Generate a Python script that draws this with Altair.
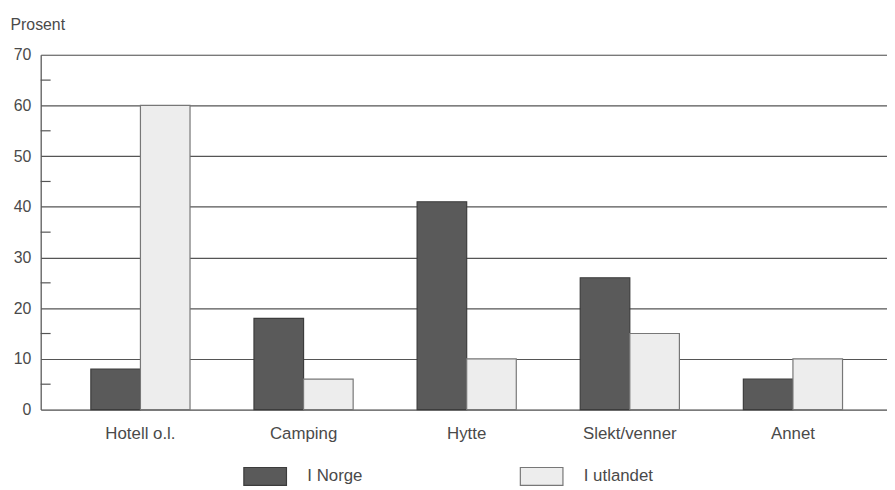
import altair as alt
import pandas as pd

categories = ["Hotell o.l.", "Camping", "Hytte", "Slekt/venner", "Annet"]
norge = [8, 18, 41, 26, 6]
utlandet = [60, 6, 10, 15, 10]
series = ["I Norge", "I utlandet"]
y_ticks = [0, 10, 20, 30, 40, 50, 60, 70]
minor_ticks = [5, 15, 25, 35, 45, 55, 65]

rows = []
for c, a, b in zip(categories, norge, utlandet):
    rows.append({"kat": c, "serie": series[0], "verdi": a})
    rows.append({"kat": c, "serie": series[1], "verdi": b})
df = pd.DataFrame(rows)
minor_df = pd.DataFrame({"v": minor_ticks})

FONT = "Liberation Sans"
TXT = "#4a4a4a"

yscale = alt.Scale(domain=[0, 70], nice=False)

bars = alt.Chart(df).mark_bar(strokeWidth=1.2).encode(
    x=alt.X("kat:N", sort=categories,
            scale=alt.Scale(paddingInner=0.392, paddingOuter=0.29, align=0.53),
            axis=alt.Axis(title=None, domain=False, ticks=False, labelAngle=0,
                          labelFont=FONT, labelFontSize=17, labelColor=TXT,
                          labelPadding=16)),
    xOffset=alt.XOffset("serie:N", sort=series, scale=alt.Scale(paddingInner=0, paddingOuter=0)),
    y=alt.Y("verdi:Q", scale=yscale,
            axis=alt.Axis(values=y_ticks, title="Prosent", titleAngle=0,
                          titleAlign="left", titleBaseline="alphabetic",
                          titleX=-31, titleY=-25, titleFont=FONT, titleFontSize=16,
                          titleFontWeight="normal", titleColor=TXT,
                          labelFont=FONT, labelFontSize=16, labelColor=TXT,
                          labelPadding=10, ticks=False, domain=True,
                          domainColor="#555555", domainWidth=1.2,
                          grid=True, gridColor="#555555", gridWidth=1.2)),
    fill=alt.Fill("serie:N", sort=series,
                  scale=alt.Scale(domain=series, range=["#5a5a5a", "#ededed"]),
                  legend=alt.Legend(title=None, orient="none", direction="horizontal",
                                    legendX=204, legendY=403,
                                    symbolType="M-1,-0.42H1V0.42H-1Z", symbolSize=1849,
                                    symbolStrokeColor="#555555", symbolStrokeWidth=1.2,
                                    labelFont=FONT, labelFontSize=17, labelColor=TXT,
                                    labelOffset=20, columnPadding=156)),
    stroke=alt.Stroke("serie:N", sort=series,
                      scale=alt.Scale(domain=series, range=["#3c3c3c", "#777777"]),
                      legend=None),
)

minor = alt.Chart(minor_df).mark_rule(color="#555555", strokeWidth=1.2).encode(
    y=alt.Y("v:Q", scale=yscale),
    x=alt.value(0), x2=alt.value(10),
)

chart = alt.layer(bars, minor).properties(
    width=854, height=358,
    autosize=alt.AutoSizeParams(type="none"),
    padding={"left": 33, "top": 45, "right": 0, "bottom": 79},
).configure_view(stroke=None).configure(background="white")

chart.save("out.html", embed_options={"renderer": "svg", "actions": False})
